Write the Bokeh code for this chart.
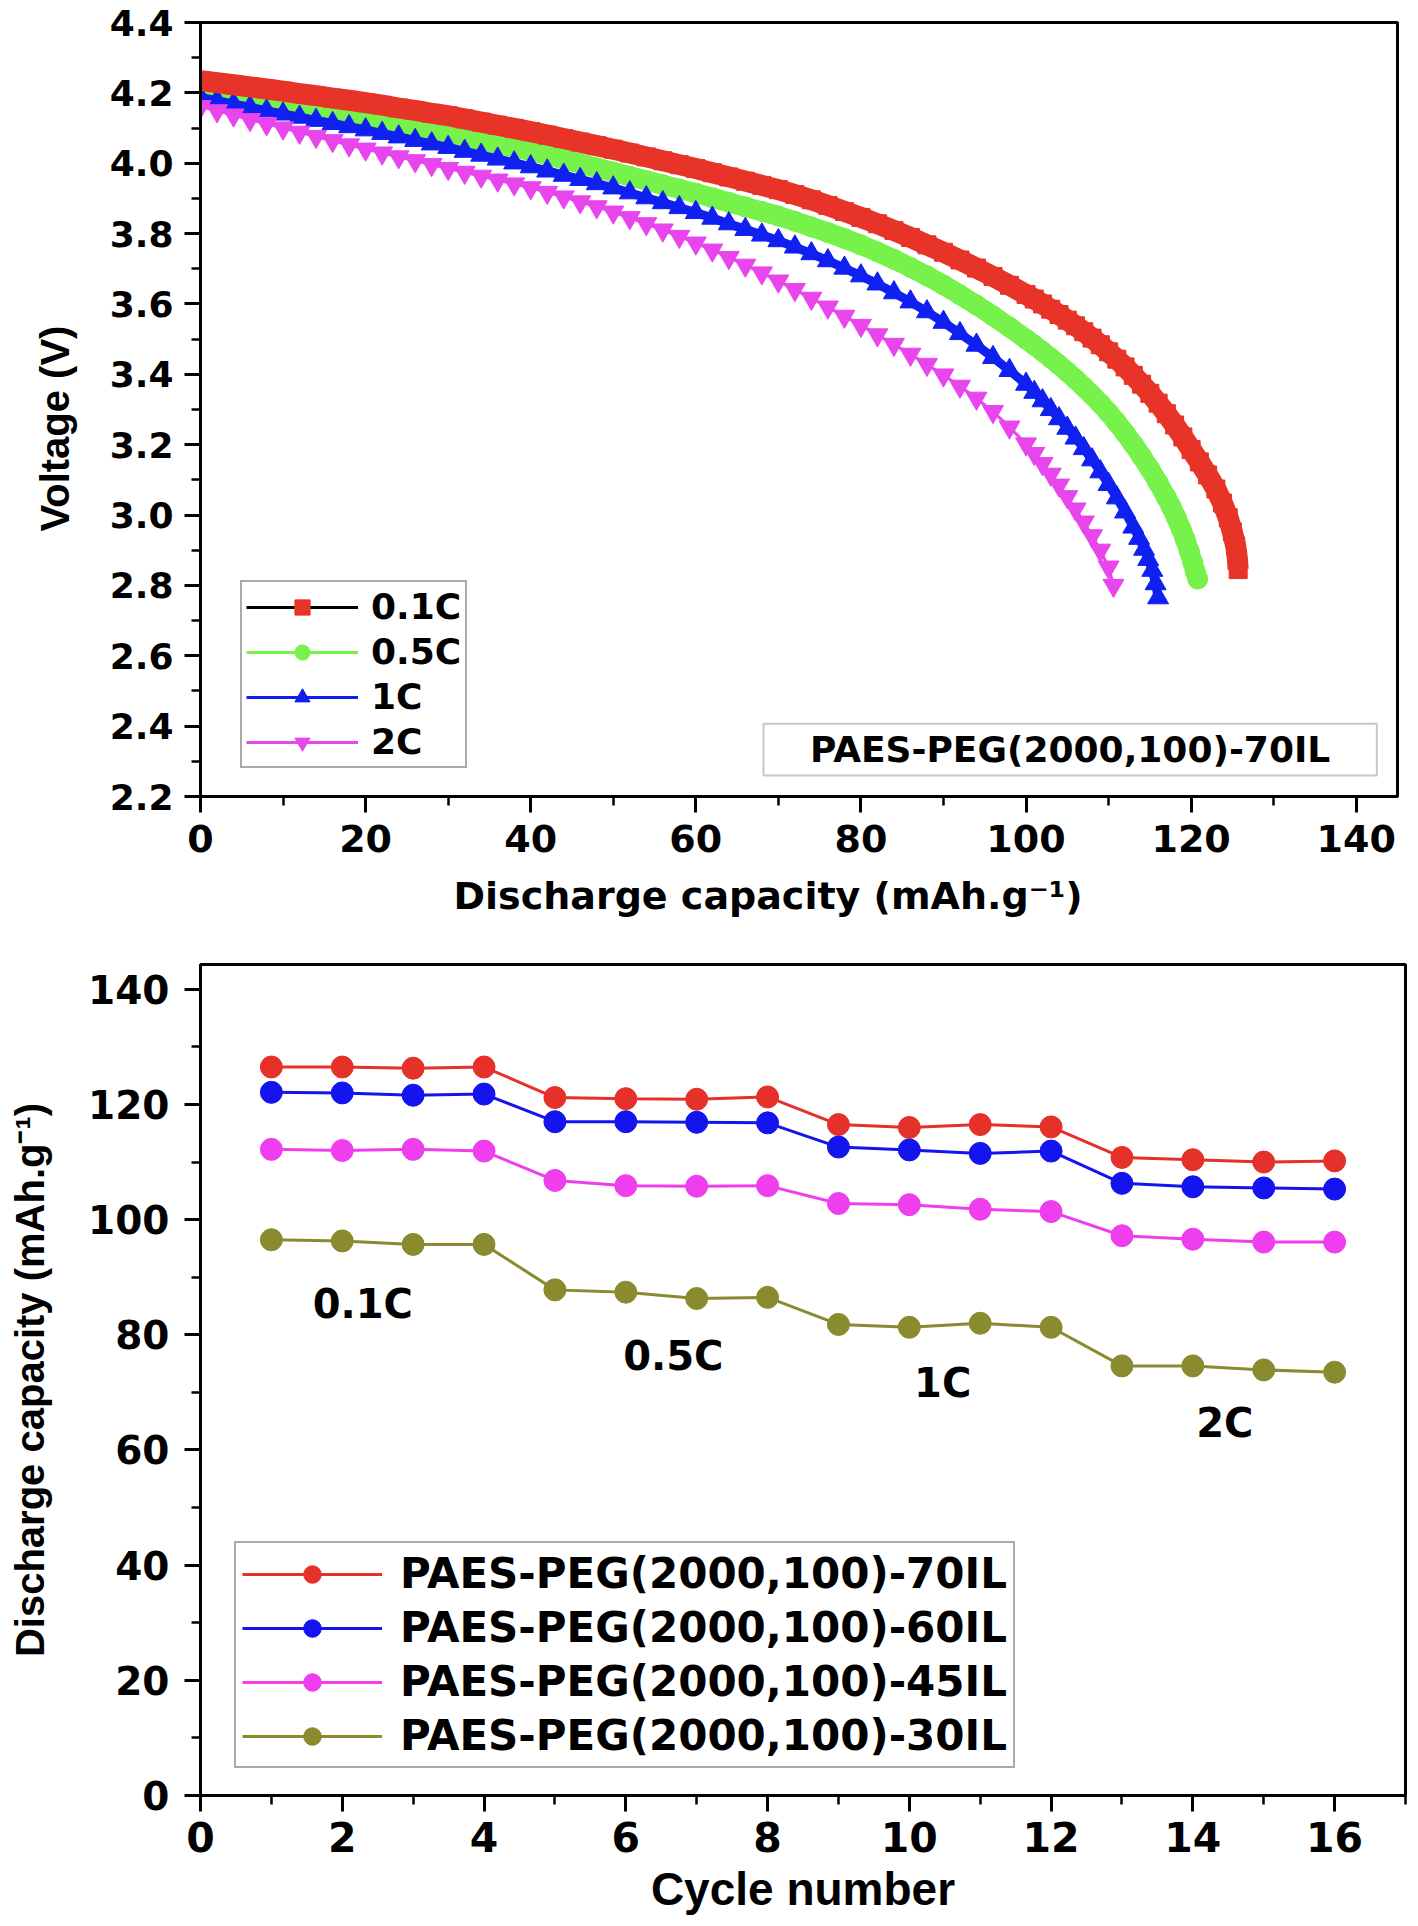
from bokeh.plotting import figure
from bokeh.layouts import column
from bokeh.models import (Range1d, SingleIntervalTicker, PrintfTickFormatter,
                          Legend, LegendItem, Label, BoxAnnotation, Title)
from bokeh.core.properties import value
from bokeh.embed import file_html
from bokeh.resources import INLINE

# ---------------- top panel: discharge curves ----------------
cap_base = [0, 2, 4, 6, 8, 10, 12, 14, 16, 18, 20, 22, 24, 26, 28, 30, 32, 34, 36, 38,
            40, 42, 44, 46, 48, 50, 52, 54, 56, 58, 60, 62, 64, 66, 68, 70, 72, 74, 76, 78,
            80, 82, 84, 86, 88, 90, 92, 94, 96, 98, 100]

v_01c = [4.235, 4.229, 4.223, 4.217, 4.211, 4.205, 4.198, 4.192, 4.185, 4.179, 4.172,
         4.165, 4.157, 4.150, 4.142, 4.135, 4.126, 4.117, 4.108, 4.099, 4.090,
         4.080, 4.070, 4.060, 4.050, 4.040, 4.029, 4.018, 4.007, 3.996, 3.985,
         3.973, 3.961, 3.949, 3.937, 3.925,
         3.911, 3.896, 3.880, 3.863, 3.846, 3.828, 3.809, 3.789, 3.768, 3.747,
         3.725, 3.702, 3.678, 3.653, 3.627]
cap_01c_tail = [101, 102, 103, 104, 105, 106, 107, 108, 109, 110, 111, 112, 113, 114, 115,
                116, 117, 118, 119, 120, 121, 122, 123, 123.8, 124.5, 125.0, 125.4, 125.6,
                125.7]
v_01c_tail = [3.614, 3.600, 3.585, 3.570, 3.554, 3.538, 3.521, 3.503, 3.484, 3.464, 3.443,
              3.421, 3.397, 3.372, 3.346, 3.318, 3.288, 3.256, 3.222, 3.186, 3.151, 3.114,
              3.074, 3.034, 2.992, 2.952, 2.912, 2.878, 2.845]

v_05c = [4.212, 4.205, 4.197, 4.190, 4.182, 4.175, 4.167, 4.158, 4.150, 4.141, 4.133,
         4.123, 4.114, 4.104, 4.095, 4.085, 4.075, 4.065, 4.055, 4.045, 4.035,
         4.023, 4.011, 3.999, 3.987, 3.975, 3.963, 3.951, 3.939, 3.927, 3.915,
         3.902, 3.889, 3.876, 3.863, 3.850,
         3.835, 3.819, 3.803, 3.786, 3.768, 3.748, 3.727, 3.704, 3.680, 3.654,
         3.626, 3.597, 3.566, 3.534, 3.500]
cap_05c_tail = [101, 102, 103, 104, 105, 106, 107, 108, 109, 110, 111, 112, 113, 114, 115,
                116, 117, 117.6, 118.2, 118.8, 119.3, 119.8, 120.2, 120.5, 120.8]
v_05c_tail = [3.483, 3.465, 3.446, 3.427, 3.407, 3.386, 3.364, 3.341, 3.317, 3.291, 3.263,
              3.233, 3.201, 3.167, 3.131, 3.092, 3.050, 3.023, 2.993, 2.960, 2.930, 2.895,
              2.865, 2.840, 2.818]

v_1c = [4.187, 4.178, 4.168, 4.159, 4.149, 4.140, 4.131, 4.122, 4.113, 4.104, 4.095,
        4.085, 4.075, 4.065, 4.055, 4.045, 4.034, 4.023, 4.012, 4.001, 3.990,
        3.978, 3.966, 3.954, 3.942, 3.930, 3.916, 3.902, 3.888, 3.874, 3.860,
        3.844, 3.828, 3.812, 3.796, 3.780,
        3.762, 3.743, 3.723, 3.702, 3.680, 3.657, 3.632, 3.606, 3.578, 3.548,
        3.516, 3.483, 3.448, 3.411, 3.372]
cap_1c_tail = [101, 102, 103, 104, 105, 106, 107, 108, 109, 110, 111, 112, 113,
               113.7, 114.3, 114.8, 115.3, 115.7, 116.0]
v_1c_tail = [3.349, 3.325, 3.300, 3.274, 3.247, 3.219, 3.189, 3.157, 3.123, 3.087, 3.049,
             3.009, 2.966, 2.934, 2.903, 2.874, 2.843, 2.805, 2.765]

v_2c = [4.161, 4.149, 4.137, 4.124, 4.112, 4.100, 4.088, 4.076, 4.064, 4.052, 4.040,
        4.029, 4.018, 4.007, 3.996, 3.985, 3.974, 3.963, 3.952, 3.941, 3.930,
        3.917, 3.904, 3.890, 3.876, 3.861, 3.845, 3.828, 3.810, 3.792, 3.773,
        3.753, 3.732, 3.710, 3.688, 3.665,
        3.641, 3.616, 3.591, 3.565, 3.539, 3.512, 3.485, 3.457, 3.428, 3.398,
        3.366, 3.332, 3.294, 3.250, 3.202]
cap_2c_tail = [101, 102, 103, 104, 105, 106, 107, 108, 109, 110, 110.6]
v_2c_tail = [3.175, 3.146, 3.116, 3.085, 3.052, 3.017, 2.980, 2.941, 2.900, 2.852, 2.800]

# ---------------- bottom panel: rate capability ----------------
cycles = [1, 2, 3, 4, 5, 6, 7, 8, 9, 10, 11, 12, 13, 14, 15, 16]
cap_70il = [126.5, 126.5, 126.3, 126.5, 121.2, 121.0, 120.9, 121.3,
            116.5, 116.0, 116.5, 116.1, 110.8, 110.4, 110.0, 110.2]
cap_60il = [122.1, 122.0, 121.6, 121.8, 117.0, 117.0, 116.9, 116.8,
            112.6, 112.1, 111.5, 111.9, 106.3, 105.7, 105.5, 105.3]
cap_45il = [112.2, 112.0, 112.2, 111.9, 106.8, 105.9, 105.8, 105.9,
            102.8, 102.6, 101.8, 101.4, 97.2, 96.6, 96.1, 96.1]
cap_30il = [96.5, 96.3, 95.7, 95.7, 87.8, 87.4, 86.3, 86.5,
            81.8, 81.3, 82.0, 81.3, 74.6, 74.6, 73.9, 73.5]

rate_labels = ["0.1C", "0.5C", "1C", "2C"]
rate_label_x = [2.29, 6.67, 10.47, 14.45]
rate_label_y = [85.3, 76.4, 71.7, 64.7]

TICK_FONT = "DejaVu Sans"
TITLE_FONT = "Liberation Sans"

# ================= top figure =================
p1 = figure(width=1400, height=952, x_range=Range1d(0, 145), y_range=Range1d(2.2, 4.4),
            output_backend="svg", toolbar_location=None,
            min_border_left=199, min_border_right=3, min_border_top=22, min_border_bottom=156)

# 0.1C / 0.5C / 1C markers are so dense in the original that they merge into a band
r_cap, r_v = cap_base + cap_01c_tail, v_01c + v_01c_tail
g_cap, g_v = cap_base + cap_05c_tail, v_05c + v_05c_tail
b_cap, b_v = cap_base + cap_1c_tail, v_1c + v_1c_tail
m_cap, m_v = cap_base + cap_2c_tail, v_2c + v_2c_tail

p1.line(g_cap, g_v, line_color="#76F24A", line_width=20, line_join="round")
r_g_line = p1.line(g_cap, g_v, line_color="#76F24A", line_width=3)
r_g = p1.scatter(g_cap, g_v, marker="circle", size=20, fill_color="#76F24A", line_color="#76F24A")

p1.line(b_cap, b_v, line_color="#1020F0", line_width=9, line_join="round")
r_b_line = p1.line(b_cap, b_v, line_color="#1020F0", line_width=3)
r_b = p1.scatter(b_cap, b_v, marker="triangle", size=21, fill_color="#1020F0", line_color="#1020F0")

r_m_line = p1.line(m_cap, m_v, line_color="#E845EC", line_width=3)
r_m = p1.scatter(m_cap, m_v, marker="inverted_triangle", size=21,
                 fill_color="#E845EC", line_color="#E845EC")

p1.line(r_cap, r_v, line_color="#E83428", line_width=21, line_join="round")
r_r_line = p1.line(r_cap, r_v, line_color="black", line_width=3)
r_r = p1.scatter(r_cap, r_v, marker="square", size=18, fill_color="#E83428", line_color="#E83428")

p1.xaxis.ticker = SingleIntervalTicker(interval=20, num_minor_ticks=2)
p1.yaxis.ticker = SingleIntervalTicker(interval=0.2, num_minor_ticks=2)
p1.yaxis.formatter = PrintfTickFormatter(format="%.1f")
p1.xaxis.major_label_text_font_size = "38px"
p1.yaxis.major_label_text_font_size = "36px"
p1.xaxis.major_label_standoff = 12
p1.yaxis.major_label_standoff = 11

# axis titles sit off-centre in the original, so they are placed as titles
p1.add_layout(Title(text="Discharge capacity (mAh.g⁻¹)", align="left", offset=253,
                    standoff=35, text_font=TICK_FONT, text_font_size="38px",
                    text_font_style="bold", text_color="black"), "below")
p1.add_layout(Title(text="Voltage (V)", align="left", offset=265,
                    standoff=60, text_font=TITLE_FONT, text_font_size="40px",
                    text_font_style="bold", text_color="black"), "left")

top_legend = Legend(items=[
    LegendItem(label="0.1C", renderers=[r_r_line, r_r]),
    LegendItem(label="0.5C", renderers=[r_g_line, r_g]),
    LegendItem(label="1C", renderers=[r_b_line, r_b]),
    LegendItem(label="2C", renderers=[r_m_line, r_m]),
], location=(40, 28))
top_legend.label_text_font = TICK_FONT
top_legend.label_text_font_style = "bold"
top_legend.label_text_font_size = "36px"
top_legend.label_text_color = "black"
top_legend.glyph_width = 112
top_legend.glyph_height = 38
top_legend.label_height = 38
top_legend.spacing = 4
top_legend.padding = 4
top_legend.label_standoff = 13
top_legend.margin = 0
top_legend.border_line_color = "#555555"
top_legend.border_line_width = 2
p1.add_layout(top_legend)

p1.add_layout(BoxAnnotation(left=68.2, right=142.5, bottom=2.260, top=2.407,
                            fill_color="white", fill_alpha=1.0,
                            line_color="#444444", line_width=2))
p1.add_layout(Label(x=105.35, y=2.333, text="PAES-PEG(2000,100)-70IL",
                    text_font=TICK_FONT, text_font_style="bold", text_font_size="36px",
                    text_color="black", text_align="center", text_baseline="middle"))

# ================= bottom figure =================
p2 = figure(width=1408, height=970, x_range=Range1d(0, 17), y_range=Range1d(0, 144.3),
            output_backend="svg", toolbar_location=None,
            min_border_left=199, min_border_right=1, min_border_top=12, min_border_bottom=127)

series = [
    ("PAES-PEG(2000,100)-70IL", cap_70il, "#E5312A"),
    ("PAES-PEG(2000,100)-60IL", cap_60il, "#1414EE"),
    ("PAES-PEG(2000,100)-45IL", cap_45il, "#EE3EEE"),
    ("PAES-PEG(2000,100)-30IL", cap_30il, "#8A8A2E"),
]
items = []
for name, vals, color in series:
    rl = p2.line(cycles, vals, line_color=color, line_width=3)
    rp = p2.scatter(cycles, vals, marker="circle", size=22, fill_color=color, line_color=color)
    items.append(LegendItem(label=name, renderers=[rl, rp]))

p2.text(x=rate_label_x, y=rate_label_y, text=rate_labels, text_font=value(TICK_FONT),
        text_font_style="bold", text_font_size="40px", text_align="center",
        text_baseline="middle", text_color="black")

p2.xaxis.ticker = SingleIntervalTicker(interval=2, num_minor_ticks=2)
p2.yaxis.ticker = SingleIntervalTicker(interval=20, num_minor_ticks=2)
p2.xaxis.axis_label = "Cycle number"
p2.yaxis.axis_label = "Discharge capacity (mAh.g⁻¹)"
p2.xaxis.axis_label_text_font = TITLE_FONT
p2.xaxis.axis_label_text_font_size = "46px"
p2.yaxis.axis_label_text_font = TITLE_FONT
p2.yaxis.axis_label_text_font_size = "40px"
p2.xaxis.major_label_text_font_size = "41px"
p2.yaxis.major_label_text_font_size = "39px"
p2.xaxis.major_label_standoff = 10
p2.xaxis.axis_label_standoff = 8
p2.yaxis.major_label_standoff = 15
p2.yaxis.axis_label_standoff = 33

bottom_legend = Legend(items=items, location=(34, 27))
bottom_legend.label_text_font = TICK_FONT
bottom_legend.label_text_font_style = "bold"
bottom_legend.label_text_font_size = "42px"
bottom_legend.label_text_color = "black"
bottom_legend.glyph_width = 140
bottom_legend.glyph_height = 44
bottom_legend.label_height = 44
bottom_legend.spacing = 5
bottom_legend.padding = 6
bottom_legend.label_standoff = 18
bottom_legend.margin = 0
bottom_legend.border_line_color = "#555555"
bottom_legend.border_line_width = 2
p2.add_layout(bottom_legend)

# ---- shared styling ----
for p in (p1, p2):
    p.grid.visible = False
    p.outline_line_color = "black"
    p.outline_line_width = 3
    p.axis.axis_line_width = 3
    p.axis.axis_line_color = "black"
    p.axis.major_tick_line_width = 3
    p.axis.minor_tick_line_width = 2.5
    p.axis.major_tick_in = 0
    p.axis.major_tick_out = 16
    p.axis.minor_tick_in = 0
    p.axis.minor_tick_out = 9
    p.axis.major_label_text_font = TICK_FONT
    p.axis.major_label_text_font_style = "bold"
    p.axis.major_label_text_color = "black"
    p.axis.axis_label_text_font_style = "bold"
    p.axis.axis_label_text_color = "black"

layout = column(p1, p2, spacing=0)
open("out.html", "w").write(file_html(layout, INLINE, title="Discharge curves and rate capability"))
